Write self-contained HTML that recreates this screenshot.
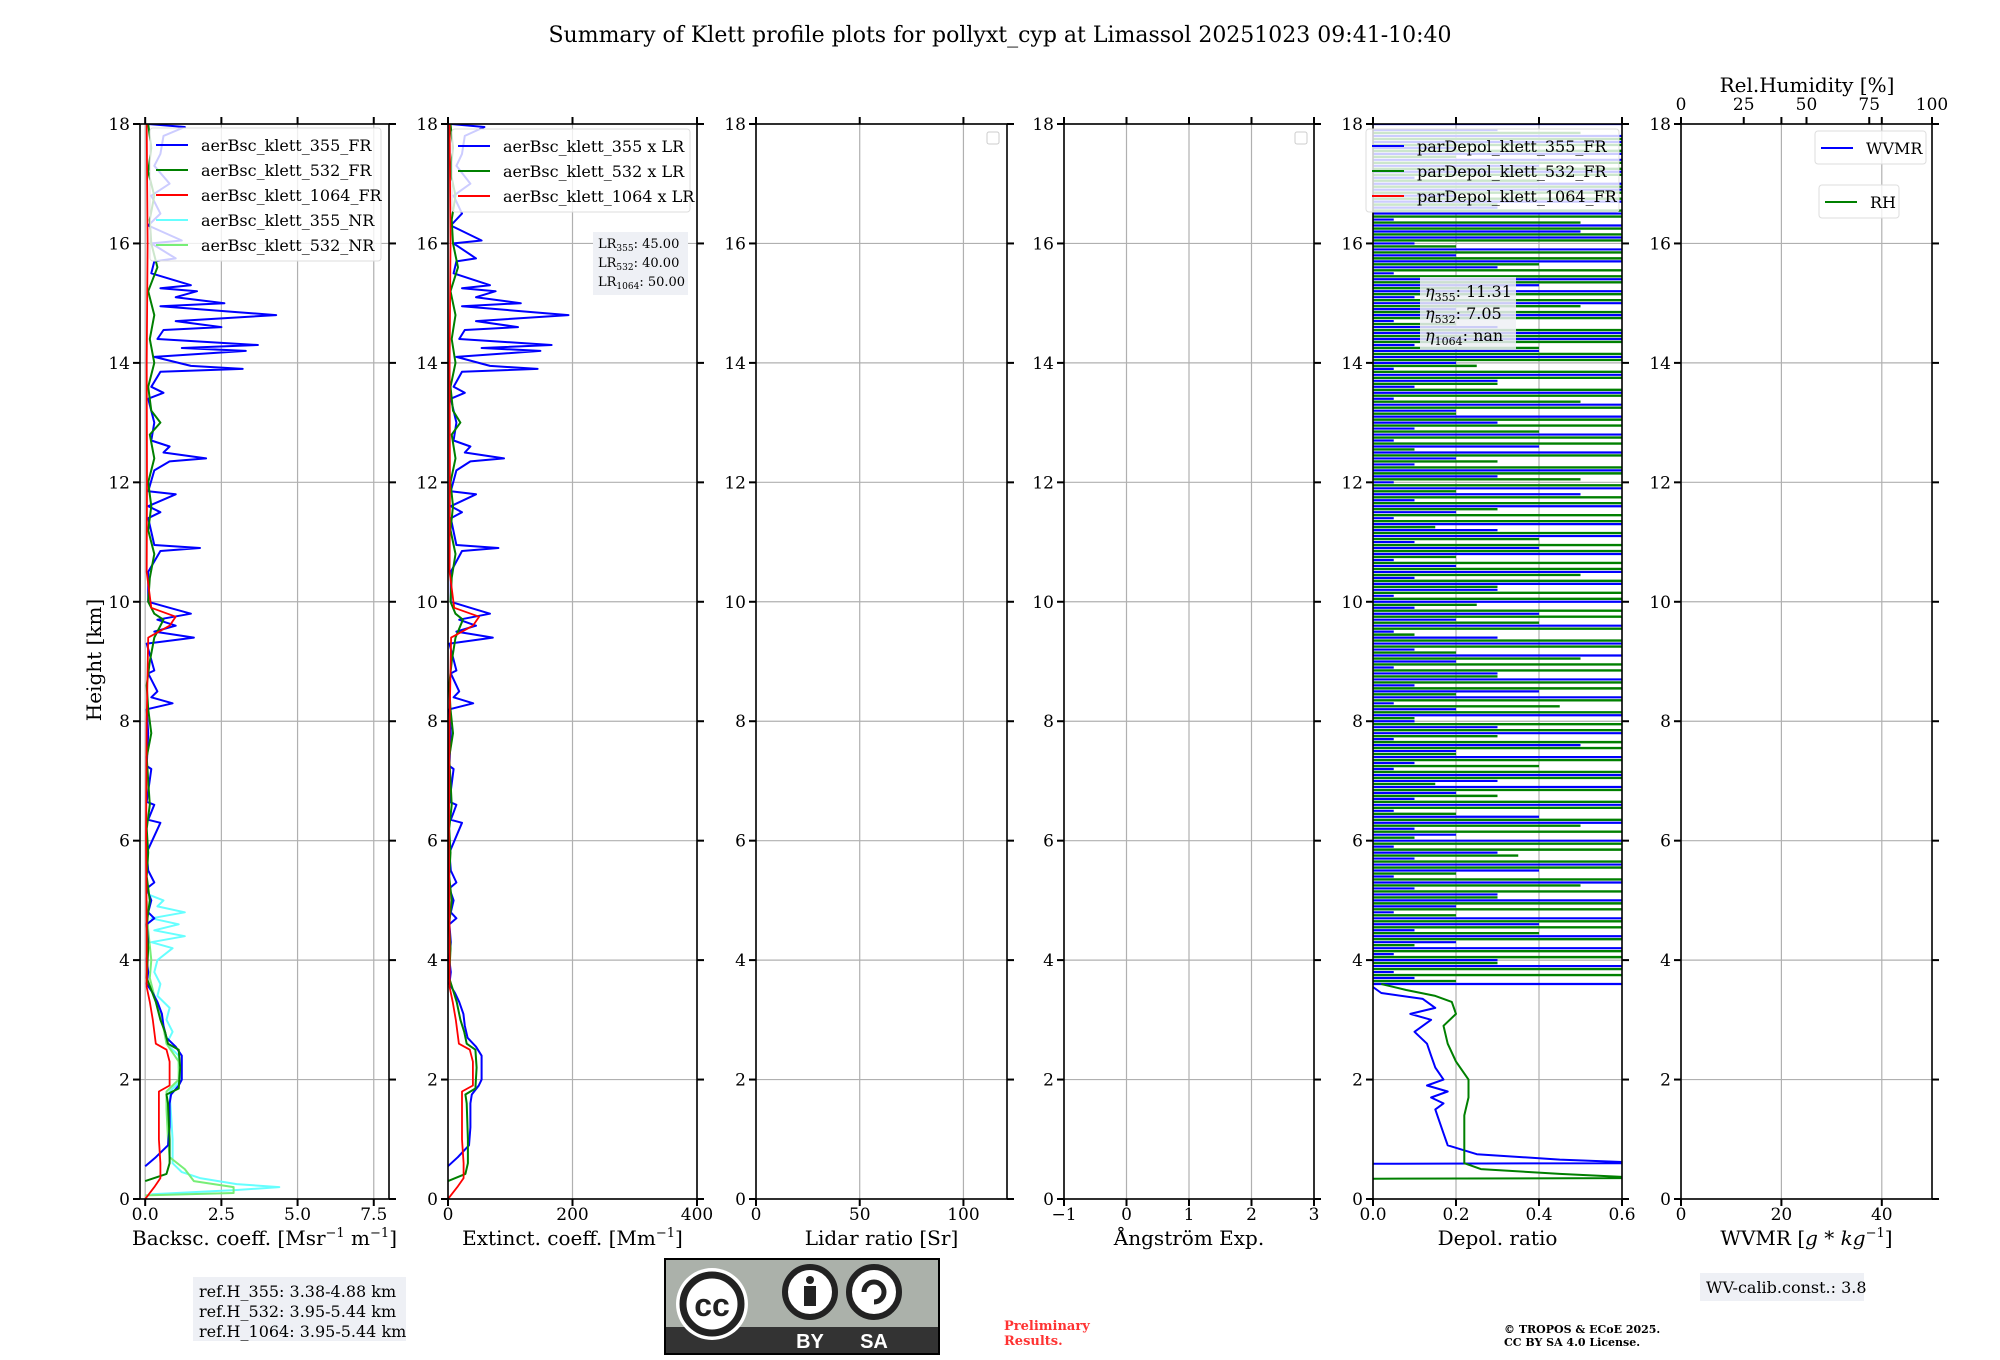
<!DOCTYPE html>
<html><head><meta charset="utf-8"><style>
html,body{margin:0;padding:0;background:#fff;}
svg{display:block;font-family:"DejaVu Serif","Liberation Serif",serif;}
</style></head><body>
<svg id="fig" width="2000" height="1360" viewBox="0 0 2000 1360" xmlns="http://www.w3.org/2000/svg">
<text x="1000" y="42" font-size="22" text-anchor="middle">Summary of Klett profile plots for pollyxt_cyp at Limassol 20251023 09:41-10:40</text>
<text transform="translate(101,660) rotate(-90)" font-size="20" text-anchor="middle">Height [km]</text>
<g id="plots"></g>
<g>
<rect x="193" y="1277" width="213" height="64" fill="#eef0f5"/>
<text x="199" y="1297" font-size="16">ref.H_355: 3.38-4.88 km</text>
<text x="199" y="1317" font-size="16">ref.H_532: 3.95-5.44 km</text>
<text x="199" y="1337" font-size="16">ref.H_1064: 3.95-5.44 km</text>
</g>
<g>
<rect x="1700" y="1273" width="164" height="28" fill="#eef0f5"/>
<text x="1706" y="1293" font-size="16">WV-calib.const.: 3.8</text>
</g>
<g transform="translate(0,-4)">
<rect x="665" y="1263" width="274" height="95" fill="#abb1aa" stroke="#000" stroke-width="2"/>
<rect x="666" y="1331" width="272" height="26" fill="#333"/>
<circle cx="712" cy="1308" r="36" fill="#fff"/>
<circle cx="712" cy="1308" r="29" fill="#fff" stroke="#222" stroke-width="7"/>
<text x="712" y="1320" font-family="Liberation Sans,sans-serif" font-weight="bold" font-size="32" text-anchor="middle" fill="#222">cc</text>
<circle cx="810" cy="1296" r="25" fill="#fff" stroke="#222" stroke-width="6"/>
<circle cx="810" cy="1284" r="4" fill="#222"/><rect x="804" y="1290" width="12" height="20" fill="#222"/>
<circle cx="874" cy="1296" r="25" fill="#fff" stroke="#222" stroke-width="6"/>
<path d="M864,1296 a10,10 0 1,1 10,10" fill="none" stroke="#222" stroke-width="5"/>
<text x="810" y="1352" font-family="Liberation Sans,sans-serif" font-weight="bold" font-size="20" fill="#fff" text-anchor="middle">BY</text>
<text x="874" y="1352" font-family="Liberation Sans,sans-serif" font-weight="bold" font-size="20" fill="#fff" text-anchor="middle">SA</text>
</g>
<text x="1004" y="1330" font-size="13" font-weight="bold" fill="#f33">Preliminary</text>
<text x="1004" y="1345" font-size="13" font-weight="bold" fill="#f33">Results.</text>
<text x="1504" y="1333" font-size="11" font-weight="bold">© TROPOS &amp; ECoE 2025.</text>
<text x="1504" y="1346" font-size="11" font-weight="bold">CC BY SA 4.0 License.</text>
</svg>
<script>
// ---------- data ----------
const heightTicks = [0,2,4,6,8,10,12,14,16,18];
const bscTicks = [0,2.5,5,7.5];
const extTicks = [0,200,400];
const lrTicks = [0,50,100];
const angTicks = [-1,0,1,2,3];
const depTicks = [0,0.2,0.4,0.6];
const wvTicks = [0,20,40];
const rhTicks = [0,25,50,75,100];
const lidarRatios = [45,40,50];

const h355FR = [0.55,0.7,0.9,1.2,1.6,1.75,1.9,2.0,2.2,2.4,2.55,2.7,2.9,3.1,3.3,3.45,3.6,3.8,4.0,4.3,4.6,4.7,4.8,5.0,5.2,5.3,5.5,5.8,6.3,6.35,6.6,6.65,7.2,7.25,7.8,8.2,8.3,8.4,8.5,8.8,8.85,9.3,9.4,9.5,9.6,9.7,9.8,9.9,10.0,10.5,10.85,10.9,10.95,11.4,11.5,11.6,11.8,11.85,12.2,12.35,12.4,12.5,12.6,12.7,13.0,13.4,13.5,13.6,13.85,13.9,13.95,14.1,14.2,14.25,14.3,14.4,14.55,14.6,14.7,14.8,14.85,14.95,15.0,15.1,15.2,15.25,15.3,15.5,15.7,15.75,16.0,16.05,16.3,16.5,16.8,17.0,17.3,17.5,17.8,17.95,18.0];
const v355FR = [0,0.35,0.75,0.8,0.8,0.85,1.1,1.2,1.2,1.2,1.0,0.7,0.6,0.55,0.4,0.25,0.05,0.1,0.05,0.1,0.05,0.3,0.1,0.2,0.05,0.3,0.1,0.05,0.5,0.1,0.3,0.05,0.2,0.05,0.1,0.05,0.9,0.2,0.4,0.1,0.3,0.05,1.6,0.3,1.0,0.4,1.5,0.8,0.1,0.1,0.5,1.8,0.3,0.1,0.5,0.1,1.0,0.1,0.3,0.8,2.0,0.6,0.8,0.2,0.3,0.1,0.6,0.2,0.5,3.2,1.5,0.3,3.3,1.2,3.7,0.4,0.6,2.5,1.0,4.3,3.0,0.5,2.6,1.0,1.7,0.5,1.5,0.2,0.3,1.0,0.2,1.2,0.1,0.5,0.2,0.8,0.3,0.5,0.6,1.3,0.1];
const h532FR = [0.3,0.42,0.6,1.0,1.6,1.75,1.85,2.2,2.5,2.6,2.8,3.0,3.3,3.5,3.7,4.2,4.6,5.0,5.4,5.8,6.2,6.6,7.0,7.4,7.8,8.2,8.6,9.0,9.4,9.7,9.8,10.0,10.4,10.8,11.2,11.6,12.0,12.4,12.8,13.0,13.2,13.6,14.0,14.4,14.8,15.2,15.6,16.0,16.4,16.8,17.2,17.6,18.0];
const v532FR = [0,0.7,0.8,0.8,0.75,0.7,1.1,1.15,1.1,0.75,0.65,0.5,0.35,0.2,0.05,0.1,0.05,0.15,0.05,0.1,0.05,0.15,0.1,0.05,0.2,0.1,0.05,0.15,0.3,0.6,0.3,0.1,0.15,0.3,0.1,0.2,0.1,0.3,0.15,0.5,0.2,0.1,0.3,0.15,0.3,0.1,0.4,0.2,0.15,0.3,0.1,0.2,0.1];
const h1064FR = [0,0.2,0.35,0.6,1.0,1.8,1.9,2.3,2.5,2.6,3.0,3.3,3.55,4.5,6.0,8.0,9.4,9.6,9.75,9.9,10.5,12.0,14.0,16.0,18.0];
const v1064FR = [0,0.3,0.5,0.5,0.45,0.45,0.8,0.8,0.7,0.35,0.25,0.15,0.05,0.05,0.03,0.05,0.1,0.8,1.0,0.2,0.05,0.06,0.05,0.08,0.05];
const h355NR = [0.08,0.15,0.2,0.25,0.35,0.45,0.6,1.0,1.4,1.8,2.0,2.2,2.4,2.6,2.8,3.0,3.2,3.4,3.6,3.8,4.0,4.2,4.3,4.4,4.5,4.6,4.7,4.8,4.9,5.0,5.1];
const v355NR = [0.2,3.0,4.4,3.0,1.8,1.2,0.9,0.9,0.85,0.8,1.2,1.1,1.1,0.7,0.9,0.7,0.8,0.4,0.5,0.3,0.4,0.9,0.2,1.3,0.3,1.1,0.2,1.3,0.4,0.6,0.1];
const h532NR = [0.06,0.1,0.2,0.3,0.5,0.7,1.0,1.5,1.8,2.0,2.3,2.6,3.0,3.4,3.7,4.0,4.5,5.0];
const v532NR = [0,2.9,2.9,1.6,1.3,0.8,0.75,0.7,0.7,1.1,1.1,0.7,0.55,0.3,0.15,0.2,0.1,0.05];

// depolarization (lower smooth part)
const hDep355 = [0.59,0.6,0.62,0.66,0.75,0.9,1.1,1.3,1.5,1.6,1.7,1.8,1.9,2.0,2.2,2.4,2.6,2.8,3.0,3.1,3.2,3.35,3.45,3.55];
const vDep355 = [0.0,0.6,0.6,0.45,0.25,0.18,0.17,0.16,0.15,0.17,0.14,0.18,0.13,0.17,0.15,0.14,0.13,0.1,0.14,0.09,0.15,0.12,0.02,0.0];
const hDep532 = [0.34,0.35,0.37,0.42,0.5,0.6,1.0,1.4,1.7,2.0,2.3,2.6,2.9,3.1,3.3,3.4,3.5,3.6];
const vDep532 = [0.0,0.6,0.6,0.45,0.26,0.22,0.22,0.22,0.23,0.23,0.2,0.18,0.17,0.2,0.19,0.15,0.08,0.02];
// depolarization (noisy upper part, step 0.1 km from 3.6 km)
const depNoiseStart = 3.6;
const depNoiseStep = 0.1;
const depNoise355 = [0.6,0.1,0.05,0.6,0.3,0.05,0.6,0.2,0.6,0.1,0.4,0.6,0.05,0.2,0.6,0.3,0.1,0.6,0.05,0.4,0.6,0.1,0.3,0.05,0.6,0.2,0.1,0.6,0.4,0.05,0.6,0.1,0.2,0.6,0.3,0.6,0.05,0.1,0.6,0.2,0.5,0.05,0.6,0.3,0.1,0.6,0.2,0.05,0.6,0.4,0.1,0.6,0.3,0.05,0.2,0.6,0.1,0.6,0.3,0.05,0.6,0.2,0.4,0.1,0.6,0.05,0.3,0.6,0.1,0.6,0.2,0.05,0.6,0.4,0.1,0.6,0.3,0.6,0.05,0.2,0.6,0.1,0.5,0.6,0.05,0.3,0.6,0.1,0.2,0.6,0.4,0.05,0.6,0.1,0.3,0.6,0.2,0.6,0.05,0.6,0.1,0.3,0.6,0.05,0.2,0.6,0.4,0.1,0.6,0.6,0.3,0.05,0.6,0.2,0.6,0.1,0.6,0.4,0.6,0.05,0.3,0.6,0.2,0.6,0.1,0.6,0.5,0.6,0.05,0.6,0.3,0.6,0.2,0.6,0.6,0.1,0.6,0.4,0.6,0.6,0.2,0.6,0.6,0.3,0.6];
const depNoise532 = [0.2,0.6,0.6,0.3,0.6,0.6,0.1,0.6,0.4,0.6,0.6,0.2,0.6,0.6,0.3,0.6,0.5,0.6,0.2,0.6,0.6,0.35,0.6,0.6,0.1,0.6,0.5,0.6,0.2,0.6,0.6,0.3,0.6,0.15,0.6,0.6,0.4,0.6,0.2,0.6,0.6,0.3,0.6,0.6,0.1,0.6,0.45,0.6,0.2,0.6,0.6,0.3,0.6,0.6,0.5,0.2,0.6,0.6,0.1,0.6,0.4,0.6,0.6,0.25,0.6,0.6,0.3,0.6,0.5,0.6,0.6,0.2,0.6,0.6,0.4,0.6,0.15,0.6,0.6,0.3,0.6,0.6,0.2,0.6,0.5,0.6,0.6,0.3,0.6,0.1,0.6,0.6,0.4,0.6,0.6,0.2,0.6,0.5,0.6,0.6,0.3,0.6,0.6,0.25,0.6,0.6,0.4,0.6,0.6,0.6,0.2,0.6,0.6,0.5,0.6,0.6,0.3,0.6,0.6,0.6,0.4,0.6,0.6,0.2,0.6,0.6,0.6,0.5,0.6,0.6,0.3,0.6,0.6,0.6,0.4,0.6,0.6,0.6,0.2,0.6,0.6,0.6,0.5];

// ---------- drawing ----------
const NS = 'http://www.w3.org/2000/svg';
const root = document.getElementById('plots');
const Y0 = 1199, Y1 = 124;
const yOf = h => Y0 - (h - 0) / 18 * (Y0 - Y1);
function mk(tag, attrs, parent) {
  const e = document.createElementNS(NS, tag);
  for (const k in attrs) e.setAttribute(k, attrs[k]);
  (parent || root).appendChild(e);
  return e;
}
function panel(name, x0, x1, xmin, xmax, xticks, label, fmt) {
  const g = mk('g', {});
  
  
  const xOf = v => x0 + (v - xmin) / (xmax - xmin) * (x1 - x0);
  const clipId = name + '-clip';
  const cp = mk('clipPath', {id: clipId}, g);
  mk('rect', {x: x0, y: Y1, width: x1 - x0, height: Y0 - Y1}, cp);
  xticks.forEach(t => {
    const l = mk('line', {x1: xOf(t), x2: xOf(t), y1: Y1, y2: Y0, stroke: '#b0b0b0', 'stroke-width': 1.2}, g);
    
    
  });
  heightTicks.forEach(t => {
    const l = mk('line', {x1: x0, x2: x1, y1: yOf(t), y2: yOf(t), stroke: '#b0b0b0', 'stroke-width': 1.2}, g);
    
    
  });
  const data = mk('g', {'clip-path': 'url(#' + clipId + ')'}, g);
  
  
  const fr = mk('rect', {x: x0, y: Y1, width: x1 - x0, height: Y0 - Y1, fill: 'none', stroke: '#000', 'stroke-width': 1.6}, g);
  
  
  heightTicks.forEach(t => {
    mk('line', {x1: x0 - 7, x2: x0, y1: yOf(t), y2: yOf(t), stroke: '#000', 'stroke-width': 2}, g);
    mk('line', {x1: x1, x2: x1 + 7, y1: yOf(t), y2: yOf(t), stroke: '#000', 'stroke-width': 2}, g);
    const tx = mk('text', {x: x0 - 10, y: yOf(t) + 6, 'font-size': 17, 'text-anchor': 'end'}, g);
    tx.textContent = t;
    
    
  });
  xticks.forEach(t => {
    mk('line', {x1: xOf(t), x2: xOf(t), y1: Y0, y2: Y0 + 7, stroke: '#000', 'stroke-width': 2}, g);
    mk('line', {x1: xOf(t), x2: xOf(t), y1: Y1 - 7, y2: Y1, stroke: '#000', 'stroke-width': 2}, g);
    const tx = mk('text', {x: xOf(t), y: Y0 + 21, 'font-size': 17, 'text-anchor': 'middle'}, g);
    tx.textContent = fmt(t);
    
    
  });
  const lb = mk('text', {x: (x0 + x1) / 2, y: Y0 + 46, 'font-size': 20, 'text-anchor': 'middle'}, g);
  lb.innerHTML = label;
  
  
  return {g, data, xOf};
}
function line(p, hs, vs, color, w, scale, nm) {
  const s = scale || 1;
  const pts = hs.map((h, i) => p.xOf(vs[i] * s).toFixed(1) + ',' + yOf(h).toFixed(1)).join(' ');
  const pl = mk('polyline', {points: pts, fill: 'none', stroke: color, 'stroke-width': w, 'stroke-linejoin': 'round'}, p.data);
  
  
}
function legend(parent, x, y, w, entries, name) {
  const g = mk('g', {}, parent);
  
  
  mk('rect', {x: x, y: y, width: w, height: entries.length * 25 + 8, rx: 3, fill: '#fff', 'fill-opacity': 0.8, stroke: '#ddd'}, g);
  entries.forEach((e, i) => {
    const yy = y + 17 + i * 25;
    mk('line', {x1: x + 6, x2: x + 38, y1: yy, y2: yy, stroke: e[1], 'stroke-width': 2}, g);
    const t = mk('text', {x: x + 51, y: yy + 6, 'font-size': 16}, g);
    t.textContent = e[0];
    
    
  });
}
const f1 = t => t.toFixed(1);
const f0 = t => String(t);

// Panel 1 backscatter
const p1 = panel('backscatter-panel', 140, 389, -0.17, 8.0, bscTicks, 'Backsc. coeff. [Msr<tspan dy="-8" font-size="13">−1</tspan><tspan dy="8"> m</tspan><tspan dy="-8" font-size="13">−1</tspan><tspan dy="8">]</tspan>', f1);
line(p1, h355NR, v355NR, '#66ffff', 2, 1, 'bsc-355-nr');
line(p1, h532NR, v532NR, '#77ee77', 2, 1, 'bsc-532-nr');
line(p1, h355FR, v355FR, '#0000ff', 2, 1, 'bsc-355-fr');
line(p1, h532FR, v532FR, '#008000', 2, 1, 'bsc-532-fr');
line(p1, h1064FR, v1064FR, '#ff0000', 1.8, 1, 'bsc-1064-fr');
legend(p1.g, 150, 128, 231, [['aerBsc_klett_355_FR','#0000ff'],['aerBsc_klett_532_FR','#008000'],['aerBsc_klett_1064_FR','#ff0000'],['aerBsc_klett_355_NR','#66ffff'],['aerBsc_klett_532_NR','#77ee77']], 'backscatter-legend');

// Panel 2 extinction
const p2 = panel('extinction-panel', 448, 697, 0, 400, extTicks, 'Extinct. coeff. [Mm<tspan dy="-8" font-size="13">−1</tspan><tspan dy="8">]</tspan>', f0);
line(p2, h355FR, v355FR, '#0000ff', 2, lidarRatios[0], 'ext-355');
line(p2, h532FR, v532FR, '#008000', 2, lidarRatios[1], 'ext-532');
line(p2, h1064FR, v1064FR, '#ff0000', 1.8, lidarRatios[2], 'ext-1064');
legend(p2.g, 452, 129, 238, [['aerBsc_klett_355 x LR','#0000ff'],['aerBsc_klett_532 x LR','#008000'],['aerBsc_klett_1064 x LR','#ff0000']], 'extinction-legend');
(function(){
  const g = mk('g', {}, p2.g);
  
  
  mk('rect', {x: 593, y: 232, width: 95, height: 63, fill: '#eef0f5'}, g);
  const wl = ['355','532','1064'];
  wl.forEach((w, i) => {
    const t = mk('text', {x: 598, y: 248 + i * 19, 'font-size': 13}, g);
    t.innerHTML = 'LR<tspan font-size="9" dy="3">' + w + '</tspan><tspan dy="-3">: ' + lidarRatios[i].toFixed(2) + '</tspan>';
  });
})();

// Panel 3 lidar ratio
const p3 = panel('lidar-ratio-panel', 756, 1007, 0, 121, lrTicks, 'Lidar ratio [Sr]', f0);
mk('rect', {x: 987, y: 132, width: 12, height: 12, rx: 2, fill: '#fff', stroke: '#ccc'}, p3.g);

// Panel 4 angstrom
const p4 = panel('angstrom-panel', 1064, 1314, -1, 3, angTicks, 'Ångström Exp.', t => t < 0 ? '−' + Math.abs(t) : String(t));
mk('rect', {x: 1295, y: 132, width: 12, height: 12, rx: 2, fill: '#fff', stroke: '#ccc'}, p4.g);

// Panel 5 depol
const p5 = panel('depol-panel', 1373, 1622, 0, 0.6, depTicks, 'Depol. ratio', f1);
depNoise355.forEach((v, i) => {
  const h = depNoiseStart + i * depNoiseStep;
  const l = mk('line', {x1: p5.xOf(0), x2: p5.xOf(v), y1: yOf(h), y2: yOf(h), stroke: '#0000ff', 'stroke-width': 2.2}, p5.data);
  
  
});
depNoise532.forEach((v, i) => {
  const h = depNoiseStart + 0.05 + i * depNoiseStep;
  const l = mk('line', {x1: p5.xOf(0), x2: p5.xOf(v), y1: yOf(h), y2: yOf(h), stroke: '#008000', 'stroke-width': 2.4}, p5.data);
  
  
});
line(p5, hDep355, vDep355, '#0000ff', 2, 1, 'depol-355-profile');
line(p5, hDep532, vDep532, '#008000', 2, 1, 'depol-532-profile');
legend(p5.g, 1366, 129, 253, [['parDepol_klett_355_FR','#0000ff'],['parDepol_klett_532_FR','#008000'],['parDepol_klett_1064_FR','#ff0000']], 'depol-legend');
(function(){
  const g = mk('g', {}, p5.g);
  
  
  mk('rect', {x: 1420, y: 277, width: 96, height: 72, fill: '#eef0f5', 'fill-opacity': 0.85}, g);
  const rows = [['355','11.31'],['532','7.05'],['1064','nan']];
  rows.forEach((r, i) => {
    const t = mk('text', {x: 1425, y: 297 + i * 22, 'font-size': 16}, g);
    t.innerHTML = '<tspan font-style="italic">η</tspan><tspan font-size="11" dy="4">' + r[0] + '</tspan><tspan dy="-4">: ' + r[1] + '</tspan>';
  });
})();

// Panel 6 WVMR
const p6 = panel('wvmr-panel', 1681, 1932, 0, 50, wvTicks, 'WVMR [<tspan font-style="italic">g</tspan> * <tspan font-style="italic">kg</tspan><tspan dy="-8" font-size="13">−1</tspan><tspan dy="8">]</tspan>', f0);
(function(){
  const rx = v => 1681 + v / 100 * (1932 - 1681);
  rhTicks.forEach(t => {
    const tx = mk('text', {x: rx(t), y: 110, 'font-size': 17, 'text-anchor': 'middle'}, p6.g);
    tx.textContent = t;
    
    
    mk('line', {x1: rx(t), x2: rx(t), y1: Y1 - 7, y2: Y1, stroke: '#000', 'stroke-width': 2}, p6.g);
  });
  const tt = mk('text', {x: 1807, y: 92, 'font-size': 20, 'text-anchor': 'middle'}, p6.g);
  tt.textContent = 'Rel.Humidity [%]';
  
  
})();
legend(p6.g, 1815, 131, 111, [['WVMR','#0000ff']], 'wvmr-legend');
legend(p6.g, 1819, 185, 80, [['RH','#008000']], 'rh-legend');
</script>
</body></html>
